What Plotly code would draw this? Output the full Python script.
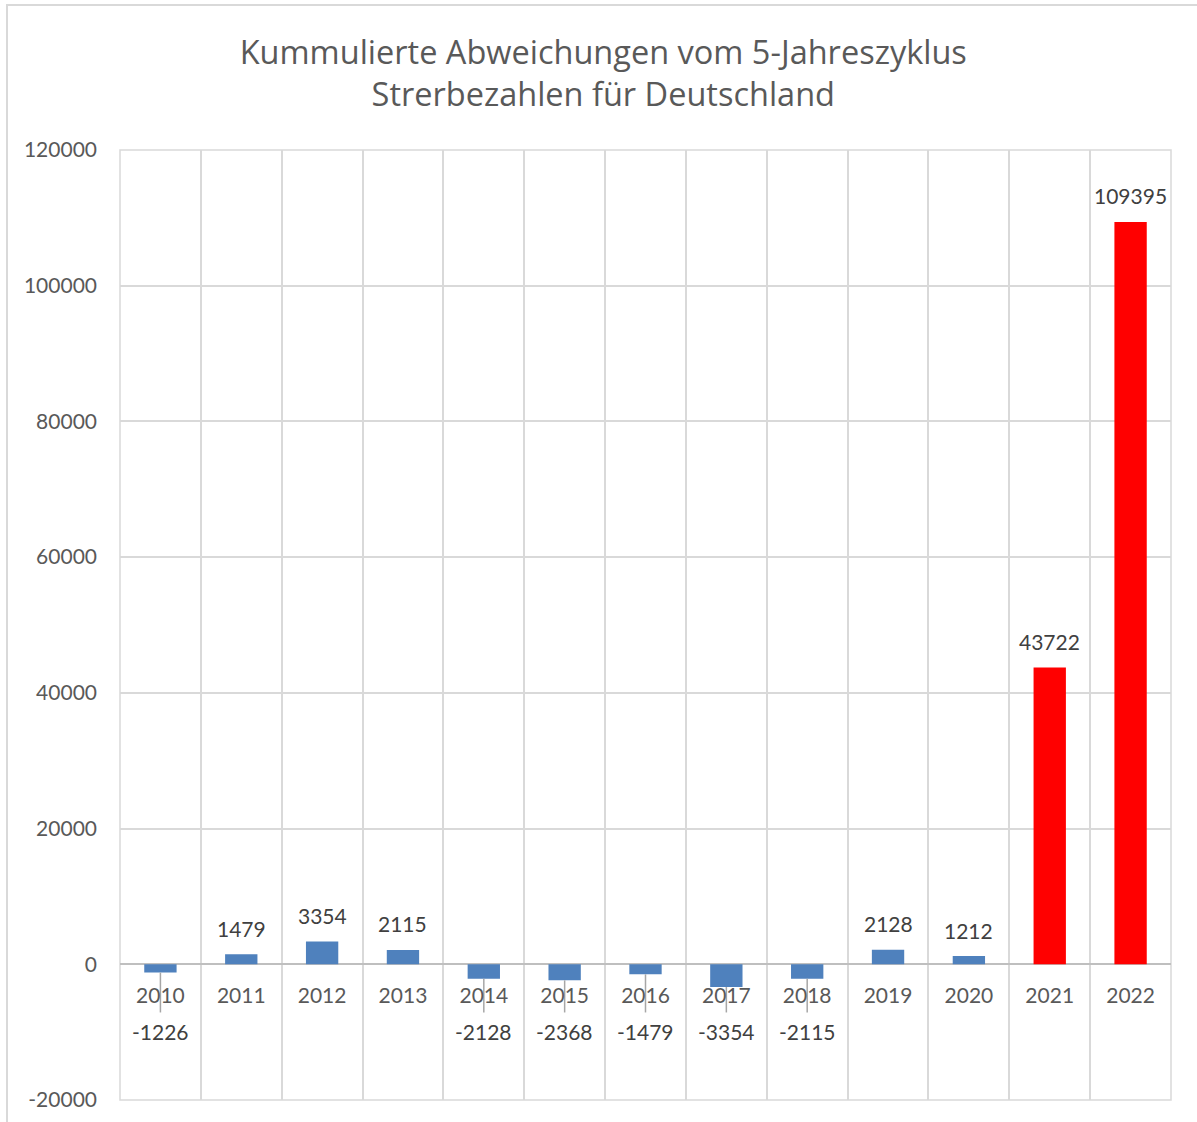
import plotly.graph_objects as go

# ---- data ----
years = ["2010", "2011", "2012", "2013", "2014", "2015", "2016",
         "2017", "2018", "2019", "2020", "2021", "2022"]
values = [-1226, 1479, 3354, 2115, -2128, -2368, -1479,
          -3354, -2115, 2128, 1212, 43722, 109395]
highlight_years = ["2021", "2022"]
y_ticks = [-20000, 0, 20000, 40000, 60000, 80000, 100000, 120000]
y_tick_labels = [str(t) for t in y_ticks]

# ---- style ----
FONT = "Lato, 'Open Sans', sans-serif"
TITLE_FONT = "'Open Sans', Lato, sans-serif"
TXT = "#595959"
LBL = "#404040"
BLUE = "#4F81BD"
RED = "#FF0000"
GRID = "#d9d9d9"
Y_MIN, Y_MAX = -20000, 120000
NEG_LABEL_Y = -9900      # where Excel's moved labels for negative values sit
LEADER_END = -7100

colors = [RED if y in highlight_years else BLUE for y in years]

fig = go.Figure()
fig.add_trace(go.Bar(
    x=years, y=values, marker=dict(color=colors, line=dict(width=0)),
    width=0.4, showlegend=False, hoverinfo="x+y",
))

# leader lines for negative values
for yr, v in zip(years, values):
    if v < 0:
        fig.add_trace(go.Scatter(
            x=[yr, yr], y=[v, LEADER_END], mode="lines",
            line=dict(color="#a6a6a6", width=1.5),
            showlegend=False, hoverinfo="skip",
        ))

annotations = []
for i, v in enumerate(values):
    if v >= 0:
        annotations.append(dict(x=i, y=v, xref="x", yref="y", text=str(v),
                                showarrow=False, yanchor="middle", yshift=26,
                                font=dict(size=21, color=LBL, family=FONT)))
    else:
        annotations.append(dict(x=i, y=NEG_LABEL_Y, xref="x", yref="y", text=str(v),
                                showarrow=False, yanchor="middle",
                                font=dict(size=21, color=LBL, family=FONT)))

fig.update_layout(
    width=1197, height=1122,
    margin=dict(l=120, r=26, t=150, b=22),
    paper_bgcolor="white", plot_bgcolor="white",
    font=dict(family=FONT, color=TXT, size=21),
    title=dict(text="Kummulierte Abweichungen vom 5-Jahreszyklus<br>Strerbezahlen für Deutschland",
               x=0.504, xanchor="center", y=(1122 - 64) / 1122, yanchor="middle",
               font=dict(size=32.5, color=TXT, family=TITLE_FONT)),
    bargap=0.6,
    annotations=annotations,
    shapes=[
        dict(type="rect", xref="paper", yref="paper",
             x0=(7 - 120) / 1051, x1=1.05, y0=-0.1, y1=(1100 - 5) / 950,
             line=dict(color=GRID, width=2), fillcolor="rgba(0,0,0,0)", layer="below"),
        dict(type="rect", xref="paper", yref="paper", x0=0, x1=1, y0=0, y1=1,
             line=dict(color=GRID, width=1.5), fillcolor="rgba(0,0,0,0)", layer="below"),
    ],
    xaxis=dict(type="category", tickson="boundaries", showgrid=True,
               gridcolor=GRID, gridwidth=1.5, ticks="", showline=False,
               anchor="free", position=(0 - Y_MIN) / (Y_MAX - Y_MIN),
               ticklabelstandoff=17,
               tickfont=dict(size=21, color=TXT, family=FONT),
               range=[-0.5, 12.5], fixedrange=True),
    yaxis=dict(range=[Y_MIN, Y_MAX], tickvals=y_ticks, ticktext=y_tick_labels,
               showgrid=True, gridcolor=GRID, gridwidth=1.5, zeroline=True,
               zerolinecolor="#bfbfbf", zerolinewidth=2,
               showline=False,
               ticks="", ticklabelstandoff=22,
               tickfont=dict(size=21, color=TXT, family=FONT)),
)

fig.write_html("out.html", config={"displayModeBar": False},
               post_script="document.body.style.margin='0';document.body.style.overflow='hidden';")
